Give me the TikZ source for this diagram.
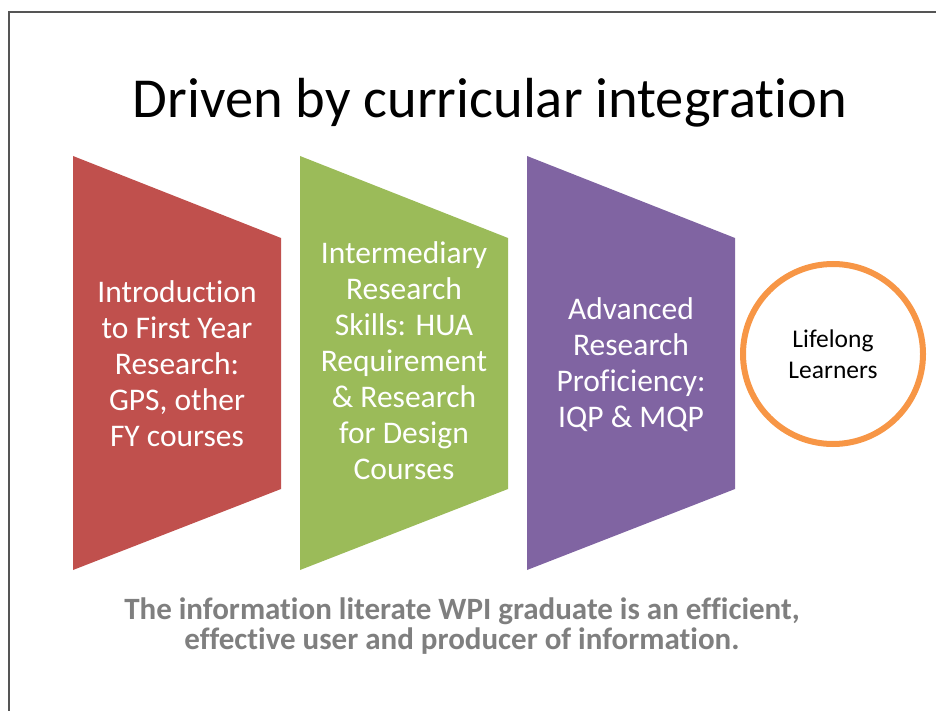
\documentclass[tikz,border=0pt]{standalone}
\usepackage{fontspec}
\setmainfont{Carlito}[Ligatures=NoCommon]
\usetikzlibrary{positioning}
\definecolor{stagered}{RGB}{192,80,77}
\definecolor{stagegreen}{RGB}{155,187,89}
\definecolor{stagepurple}{RGB}{128,100,162}
\definecolor{ringorange}{RGB}{247,150,70}
\definecolor{captiongray}{RGB}{127,127,127}
\definecolor{framegray}{RGB}{85,85,85}

\begin{document}
\begin{tikzpicture}[
  x=1pt, y=-1pt,
  stage/.style={text=white, align=center, inner sep=0pt,
                font=\fontsize{31.5}{36}\selectfont},
  ring/.style={circle, draw=ringorange, line width=6pt, minimum size=180pt,
               align=center, font=\fontsize{25.5}{30.5}\selectfont},
  caption/.style={text=captiongray, align=center, inner sep=0pt,
                  font=\bfseries\fontsize{31}{30}\selectfont}
]
\useasboundingbox (0,0) rectangle (936,711);

% slide frame
\draw[framegray, line width=1.5pt] (9,711) -- (9,12) -- (936,12);

% title
\node[anchor=base, inner sep=0pt, font=\fontsize{56.5}{60}\selectfont] (title)
  at (490,118) {Driven by curricular integration};

% first year
\fill[stagered] (73,156) -- (281,238) -- (281,489) -- (73,570) -- cycle;
\node[stage] (intro) at (177,364) {Introduction\\to First Year\\Research:\\GPS, other\\FY courses};

% intermediary
\fill[stagegreen] (300,156) -- (508,238) -- (508,489) -- (300,570) -- cycle;
\node[stage] (inter) at (404,361) {Intermediary\\Research\\Skills: HUA\\Requirement\\\& Research\\for Design\\Courses};

% advanced
\fill[stagepurple] (527,156) -- (735,238) -- (735,489) -- (527,570) -- cycle;
\node[stage] (adv) at (631,365) {Advanced\\Research\\Proficiency:\\IQP \& MQP};

% outcome
\node[ring] (lifelong) at (833,354) {Lifelong\\Learners};

% caption
\node[caption] (grad) at (462,626) {The information literate WPI graduate is an efficient,\\effective user and producer of information.};

\end{tikzpicture}
\end{document}
